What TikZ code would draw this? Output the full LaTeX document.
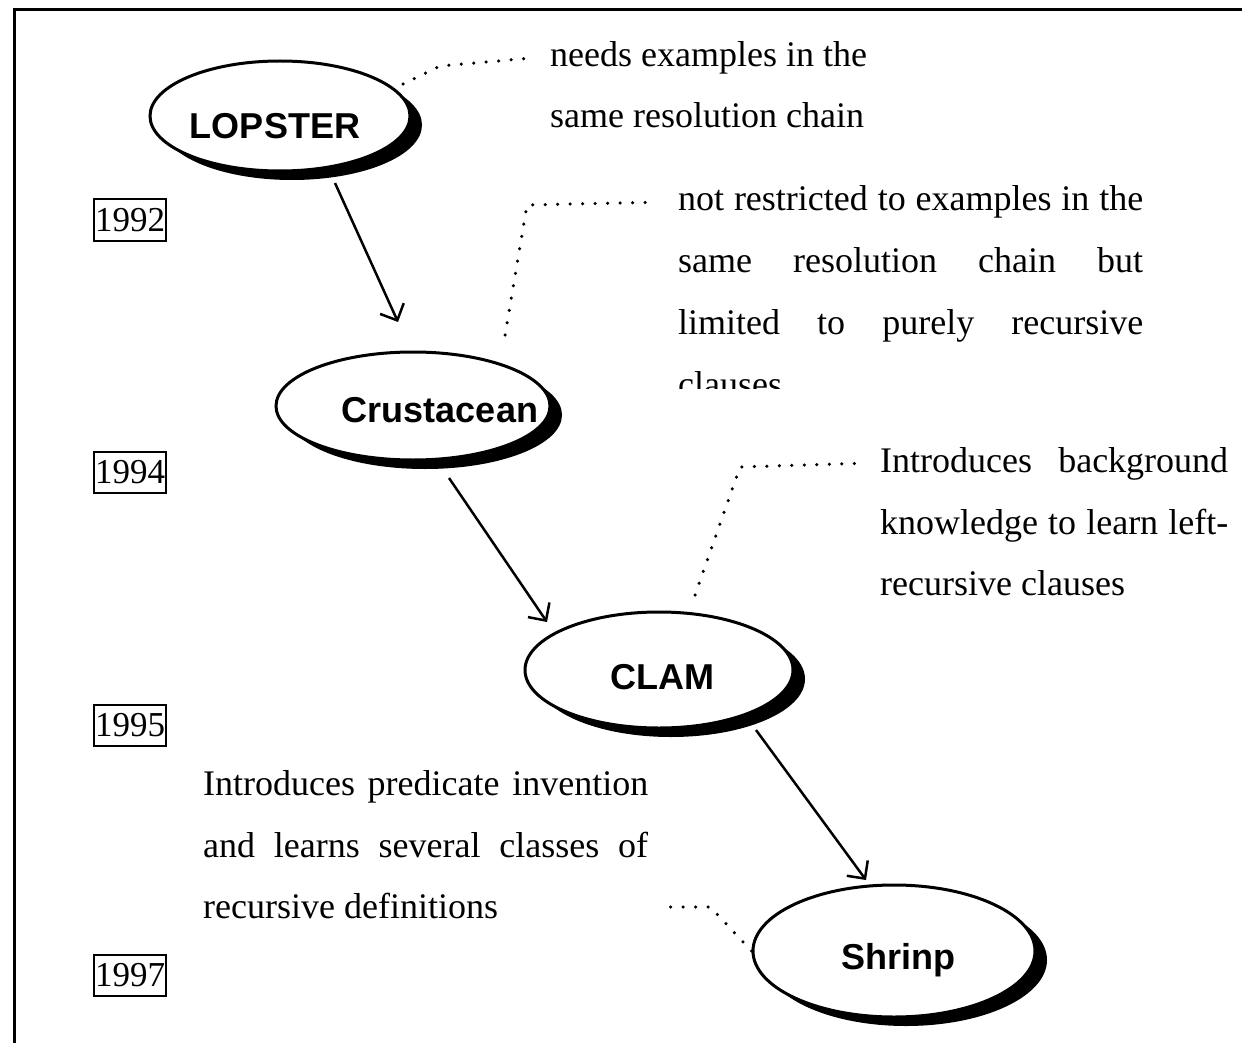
\documentclass[tikz,border=0pt]{standalone}
\usepackage{fontspec}
\setmainfont{Liberation Serif}
\newfontfamily\namefont{Liberation Sans}
\usetikzlibrary{shapes.geometric,shadows,arrows.meta}
\begin{document}
\begin{tikzpicture}[x=1pt,y=-1pt,
  system/.style={ellipse, draw, line width=3pt, fill=white, inner sep=0pt,
    drop shadow={shadow xshift=12pt,shadow yshift=-9pt,fill=black,opacity=1}},
  sysname/.style={font=\namefont\bfseries\fontsize{36}{40}\selectfont, inner sep=0pt},
  note/.style={font=\fontsize{36}{61}\selectfont, inner sep=0pt, anchor=base west},
  yearbox/.style={draw, line width=2pt, font=\fontsize{35}{38}\selectfont,
    inner xsep=1pt, minimum height=41pt},
  link/.style={line width=2.5pt, -{Straight Barb[length=13pt,width=26pt]}},
  leader/.style={line width=3.5pt, line cap=round, dash pattern=on 0pt off 12.5pt},
]
\useasboundingbox (0,0) rectangle (1242,1043);

% frame (top and left edges only)
\draw[line width=3pt] (14,1043) -- (14,10) -- (1242,10);

% systems
\node[system, minimum width=260pt, minimum height=110pt] (lop) at (280,116) {};
\node[sysname] (loplbl) at (275,126) {LOPSTER};

\node[system, minimum width=274pt, minimum height=108pt] (crus) at (413,406) {};
\node[sysname] (cruslbl) at (440,410) {Crustacean};

\node[system, minimum width=268pt, minimum height=116pt] (clam) at (659,670) {};
\node[sysname] (clamlbl) at (662,677) {CLAM};

\node[system, minimum width=282pt, minimum height=132pt] (shr) at (894,951) {};
\node[sysname] (shrlbl) at (898,960) {Shrinp};

% years
\node[yearbox] (y92) at (130,220) {1992};
\node[yearbox] (y94) at (130,472) {1994};
\node[yearbox] (y95) at (130,725) {1995};
\node[yearbox] (y97) at (130,975) {1997};

% succession arrows
\draw[link] ([xshift=55pt,yshift=-67pt]lop.center) -- ([xshift=-15pt,yshift=84pt]crus.center);
\draw[link] ([xshift=36pt,yshift=-72pt]crus.center) -- ([xshift=-112pt,yshift=48pt]clam.center);
\draw[link] ([xshift=97pt,yshift=-60pt]clam.center) -- ([xshift=-28pt,yshift=71pt]shr.center);

% remarks
\node[note] (n1a) at (550,67) {needs examples in the};
\node[note] (n1b) at (550,128) {same resolution chain};

\node[note] (n2a) at (678,211) {\makebox[465pt][s]{not restricted to examples in the}};
\node[note] (n2b) at (678,272) {\makebox[465pt][s]{same resolution chain but}};
\node[note] (n2c) at (678,334) {\makebox[465pt][s]{limited to purely recursive}};
\begin{scope}
  \clip (670,350) rectangle (1150,388);
  \node[note] (n2d) at (678,396) {clauses};
\end{scope}

\node[note] (n3a) at (880,472) {\makebox[348pt][s]{Introduces background}};
\node[note] (n3b) at (880,534) {\makebox[348pt][s]{knowledge to learn left-}};
\node[note] (n3c) at (880,595) {recursive clauses};

\node[note] (n4a) at (203,795) {\makebox[445pt][s]{Introduces predicate invention}};
\node[note] (n4b) at (203,857) {\makebox[445pt][s]{and learns several classes of}};
\node[note] (n4c) at (203,918) {recursive definitions};

% dotted leaders from systems to remarks
\draw[leader] ([xshift=123pt,yshift=32pt]lop.center) -- ++(37,-18) -- ([xshift=-22pt]n1a.west);
\draw[leader] ([xshift=92pt,yshift=71pt]crus.center) -- ++(22,-130) -- ([xshift=-28pt]n2a.west);
\draw[leader] ([xshift=36pt,yshift=75pt]clam.center) -- ++(45,-128) -- ([xshift=-22pt]n3a.west);
\draw[leader] (shr.west) -- ++(-41,-44) -- ++(-42,0);
\end{tikzpicture}
\end{document}
